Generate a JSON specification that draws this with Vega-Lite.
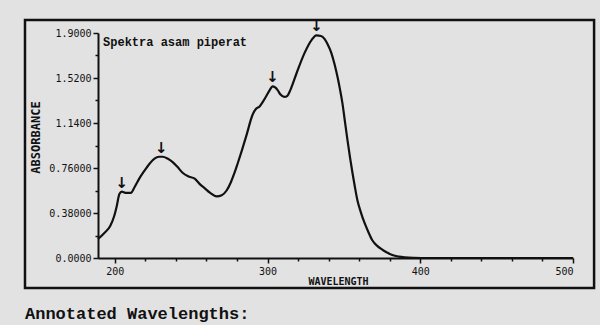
{
  "$schema": "https://vega.github.io/schema/vega-lite/v6.json",
  "width": 475,
  "height": 225,
  "autosize": {"type": "none"},
  "padding": {"left": 98, "top": 33, "right": 27, "bottom": 67},
  "background": "#e2e2e2",
  "config": {
    "view": {"stroke": null},
    "axis": {"domainColor": "#111", "domainWidth": 2, "tickColor": "#111", "tickWidth": 1.5, "labelColor": "#111", "titleColor": "#111", "grid": false, "labelFont": "DejaVu Sans Mono", "titleFont": "DejaVu Sans Mono"}
  },
  "datasets": {
    "spectrum": [
      {"wavelength": 189, "absorbance": 0.16},
      {"wavelength": 193, "absorbance": 0.21},
      {"wavelength": 197, "absorbance": 0.27},
      {"wavelength": 199.5, "absorbance": 0.35},
      {"wavelength": 201.3, "absorbance": 0.44},
      {"wavelength": 203, "absorbance": 0.54},
      {"wavelength": 204.6, "absorbance": 0.56},
      {"wavelength": 207, "absorbance": 0.55},
      {"wavelength": 210.5, "absorbance": 0.55},
      {"wavelength": 213, "absorbance": 0.6},
      {"wavelength": 216, "absorbance": 0.67},
      {"wavelength": 219.6, "absorbance": 0.74},
      {"wavelength": 223, "absorbance": 0.8},
      {"wavelength": 226, "absorbance": 0.84},
      {"wavelength": 229, "absorbance": 0.855},
      {"wavelength": 231.4, "absorbance": 0.855},
      {"wavelength": 234.5, "absorbance": 0.84},
      {"wavelength": 237.9, "absorbance": 0.81},
      {"wavelength": 241, "absorbance": 0.77},
      {"wavelength": 244.4, "absorbance": 0.72},
      {"wavelength": 248, "absorbance": 0.69},
      {"wavelength": 252.3, "absorbance": 0.67},
      {"wavelength": 256, "absorbance": 0.62},
      {"wavelength": 258.8, "absorbance": 0.59},
      {"wavelength": 262.5, "absorbance": 0.55},
      {"wavelength": 266.7, "absorbance": 0.52},
      {"wavelength": 270, "absorbance": 0.53},
      {"wavelength": 273.2, "absorbance": 0.57},
      {"wavelength": 276, "absorbance": 0.64},
      {"wavelength": 278.4, "absorbance": 0.72},
      {"wavelength": 280.5, "absorbance": 0.8},
      {"wavelength": 283, "absorbance": 0.9},
      {"wavelength": 286.3, "absorbance": 1.04},
      {"wavelength": 290.2, "absorbance": 1.21},
      {"wavelength": 292.5, "absorbance": 1.26},
      {"wavelength": 294.8, "absorbance": 1.28},
      {"wavelength": 297, "absorbance": 1.32},
      {"wavelength": 299.3, "absorbance": 1.37},
      {"wavelength": 301.5, "absorbance": 1.42},
      {"wavelength": 303.3, "absorbance": 1.45},
      {"wavelength": 305, "absorbance": 1.44},
      {"wavelength": 306.5, "absorbance": 1.42},
      {"wavelength": 308.5, "absorbance": 1.38},
      {"wavelength": 311, "absorbance": 1.36},
      {"wavelength": 313, "absorbance": 1.37},
      {"wavelength": 315, "absorbance": 1.42},
      {"wavelength": 319, "absorbance": 1.56},
      {"wavelength": 324.2, "absorbance": 1.73},
      {"wavelength": 328.8, "absorbance": 1.84},
      {"wavelength": 332, "absorbance": 1.88},
      {"wavelength": 335, "absorbance": 1.875},
      {"wavelength": 337.3, "absorbance": 1.85},
      {"wavelength": 339.5, "absorbance": 1.8},
      {"wavelength": 341.8, "absorbance": 1.73},
      {"wavelength": 343.8, "absorbance": 1.64},
      {"wavelength": 345.8, "absorbance": 1.53},
      {"wavelength": 347.5, "absorbance": 1.42},
      {"wavelength": 349, "absorbance": 1.31},
      {"wavelength": 350.7, "absorbance": 1.15},
      {"wavelength": 352.3, "absorbance": 1.0},
      {"wavelength": 354, "absorbance": 0.85},
      {"wavelength": 355.6, "absorbance": 0.72},
      {"wavelength": 357.2, "absorbance": 0.6},
      {"wavelength": 358.8, "absorbance": 0.49},
      {"wavelength": 361, "absorbance": 0.39},
      {"wavelength": 363.4, "absorbance": 0.3},
      {"wavelength": 366, "absorbance": 0.22},
      {"wavelength": 368.6, "absorbance": 0.15},
      {"wavelength": 372, "absorbance": 0.1},
      {"wavelength": 375.2, "absorbance": 0.07},
      {"wavelength": 378.5, "absorbance": 0.045},
      {"wavelength": 381.7, "absorbance": 0.025},
      {"wavelength": 386, "absorbance": 0.012},
      {"wavelength": 390, "absorbance": 0.006},
      {"wavelength": 396, "absorbance": 0.002},
      {"wavelength": 405, "absorbance": 0.0},
      {"wavelength": 450, "absorbance": 0.0},
      {"wavelength": 500, "absorbance": 0.0}
    ],
    "peaks": [
      {"wavelength": 204.6, "absorbance": 0.56},
      {"wavelength": 230.5, "absorbance": 0.855},
      {"wavelength": 303.3, "absorbance": 1.45},
      {"wavelength": 332, "absorbance": 1.88}
    ]
  },
  "resolve": {"axis": {"x": "independent", "y": "independent"}},
  "layer": [
    {
      "data": {"values": [{}]},
      "mark": {"type": "rect", "fill": null, "filled": false, "stroke": "#111", "strokeWidth": 2.5, "clip": false},
      "encoding": {
        "x": {"datum": 141.2, "type": "quantitative", "axis": null},
        "x2": {"datum": 513.8},
        "y": {"datum": 2.0098, "type": "quantitative", "axis": null},
        "y2": {"datum": -0.2533}
      }
    },
    {
      "data": {"name": "spectrum"},
      "mark": {"type": "line", "color": "#111", "strokeWidth": 2.2, "interpolate": "monotone"},
      "encoding": {
        "x": {"field": "wavelength", "type": "quantitative",
          "scale": {"domain": [189, 500], "nice": false, "zero": false},
          "axis": {"orient": "bottom", "values": [200, 300, 400, 500], "tickSize": 5, "labelFontSize": 10, "labelPadding": 3, "title": "WAVELENGTH", "titleFontSize": 10, "titleFontWeight": "bold", "titleX": 240, "titleY": 23, "titleBaseline": "middle", "titleAlign": "center"}},
        "y": {"field": "absorbance", "type": "quantitative",
          "scale": {"domain": [0, 1.9], "nice": false},
          "axis": {"orient": "left", "values": [0, 0.38, 0.76, 1.14, 1.52, 1.9], "tickSize": 5, "labelFontSize": 10, "labelPadding": 2,
            "labelExpr": "datum.value < 0.1 ? '0.0000' : datum.value < 0.5 ? '0.38000' : datum.value < 0.9 ? '0.76000' : format(datum.value, '.4f')",
            "title": "ABSORBANCE", "titleFontSize": 12, "titleFontWeight": "bold", "titleAngle": -90, "titleX": -63, "titleY": 104, "titleAlign": "center", "titleBaseline": "middle"}}
      }
    },
    {
      "data": {"name": "peaks"},
      "mark": {"type": "text", "text": "↓", "font": "DejaVu Sans", "fontWeight": "bold", "fontSize": 15, "baseline": "bottom", "dy": -1, "color": "#111"},
      "encoding": {
        "x": {"field": "wavelength", "type": "quantitative",
          "axis": {"orient": "bottom", "values": [220, 240, 260, 280, 320, 340, 360, 380, 420, 440, 460, 480], "tickSize": 3, "labels": false, "domain": false, "title": null}},
        "y": {"field": "absorbance", "type": "quantitative",
          "axis": {"orient": "left", "values": [0.19, 0.57, 0.95, 1.33, 1.71], "tickSize": 3, "labels": false, "domain": false, "title": null}}
      }
    },
    {
      "data": {"values": [{}]},
      "mark": {"type": "text", "text": "Spektra asam piperat", "font": "Liberation Mono", "fontWeight": "bold", "fontSize": 12, "align": "left", "baseline": "alphabetic", "color": "#111"},
      "encoding": {
        "x": {"datum": 192.3, "type": "quantitative", "axis": null},
        "y": {"datum": 1.79, "type": "quantitative", "axis": null}
      }
    },
    {
      "data": {"values": [{}]},
      "mark": {"type": "text", "text": "Annotated Wavelengths:", "font": "Liberation Mono", "fontSize": 17, "fontWeight": "bold", "align": "left", "baseline": "alphabetic", "color": "#111", "clip": false},
      "encoding": {
        "x": {"datum": 141.2, "type": "quantitative", "axis": null},
        "y": {"datum": -0.515, "type": "quantitative", "axis": null}
      }
    }
  ]
}
